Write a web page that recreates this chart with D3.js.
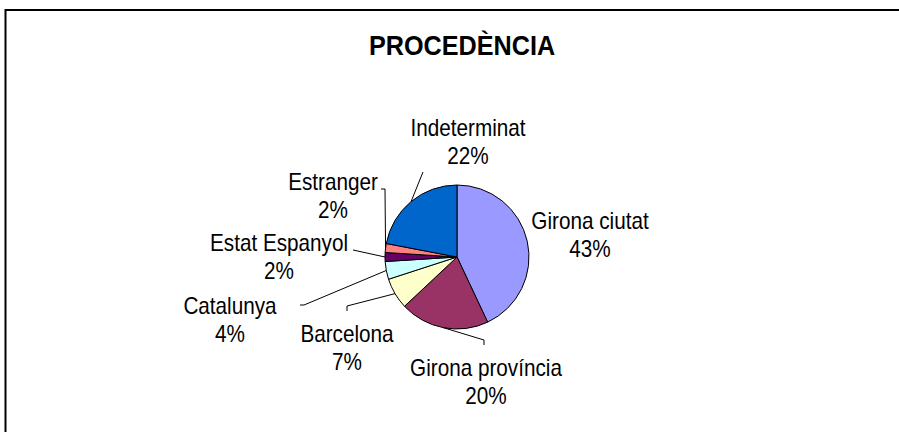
<!DOCTYPE html>
<html>
<head>
<meta charset="utf-8">
<script src="https://cdn.jsdelivr.net/npm/d3@7"></script>
<style>
  body { margin: 0; background: #fff; }
  text { font-family: "Liberation Sans", Arial, sans-serif; fill: #000; }
</style>
</head>
<body>
<div class="chart"></div>
<script>
// Chart data.
var categories = ["Girona ciutat", "Girona província", "Barcelona", "Catalunya",
                  "Estat Espanyol", "Estranger", "Indeterminat"];
var values = [43, 20, 7, 4, 2, 2, 22];
var colors = ["#9999FF", "#993366", "#FFFFCC", "#CCFFFF", "#660066", "#FF8080", "#0066CC"];
var title = "PROCEDÈNCIA";

// SVG dimensions.
var w = 899,
    h = 432;

var cx = 457, cy = 257, radius = 72;
var fontSize = 23,
    squeeze = 0.9;   // text in the original is a bit narrow

// Label layout: centre of text, first baseline, and leader path from label side.
var labelLayout = [
  {x: 590, y: 229, leader: null},
  {x: 486, y: 376, leader: [[484, 345], [484, 340]]},
  {x: 347, y: 342, leader: [[347, 311], [347, 306]]},
  {x: 230, y: 314, leader: [[300, 305], [304, 305]]},
  {x: 279, y: 251, leader: [[353, 250]]},
  {x: 333, y: 190, leader: [[381, 189], [385, 189]]},
  {x: 468, y: 136, leader: [[423, 172]]}
];

var svg = d3.select(".chart").append("svg")
  .attr("width", w)
  .attr("height", h);

// Frame (top and left edges only visible).
svg.append("path")
  .attr("d", "M5.5," + h + "V10H" + w)
  .attr("fill", "none")
  .attr("stroke", "#000")
  .attr("stroke-width", 2);

// Title.
svg.append("text")
  .attr("transform", "translate(462,55) scale(" + squeeze + ",1)")
  .attr("text-anchor", "middle")
  .style("font-weight", "bold")
  .style("font-size", "28px")
  .text(title);

var data = categories.map(function(c, i) {
  return {name: c, value: values[i], color: colors[i], layout: labelLayout[i]};
});

var pie = d3.pie()
  .sort(null)
  .value(function(d) { return d.value; });

var arc = d3.arc()
  .innerRadius(0)
  .outerRadius(radius);

var arcs = pie(data);

var g = svg.append("g")
  .attr("transform", "translate(" + cx + "," + cy + ")");

g.selectAll("path.slice")
  .data(arcs)
  .enter()
  .append("path")
  .attr("class", "slice")
  .attr("d", arc)
  .attr("fill", function(d) { return d.data.color; })
  .attr("stroke", "#000")
  .attr("stroke-width", 1);

// Leader lines.
var line = d3.line();
arcs.forEach(function(d) {
  var lay = d.data.layout;
  if (!lay.leader) return;
  var mid = (d.startAngle + d.endAngle) / 2;
  var edge = [cx + radius * Math.sin(mid), cy - radius * Math.cos(mid)];
  var pts = lay.leader.concat([edge]);
  svg.append("path")
    .attr("d", line(pts))
    .attr("fill", "none")
    .attr("stroke", "#000")
    .attr("stroke-width", 1);
});

// Labels.
arcs.forEach(function(d) {
  var lay = d.data.layout;
  var t = svg.append("text")
    .attr("transform", "translate(" + lay.x + "," + lay.y + ") scale(" + squeeze + ",1)")
    .attr("text-anchor", "middle")
    .style("font-size", fontSize + "px");
  t.append("tspan")
    .attr("x", 0)
    .attr("y", 0)
    .text(d.data.name);
  t.append("tspan")
    .attr("x", 0)
    .attr("y", 28)
    .text(d.data.value + "%");
});
</script>
</body>
</html>
